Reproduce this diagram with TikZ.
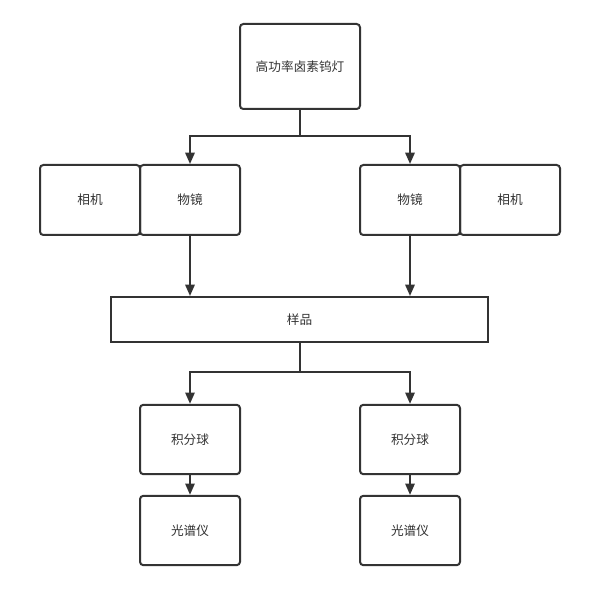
\documentclass[tikz,border=0pt]{standalone}
\usepackage{fontspec}
\setmainfont{Noto Sans CJK SC}
\usetikzlibrary{arrows.meta}
\begin{document}
\begin{tikzpicture}[x=0.75pt,y=-0.75pt,
  box/.style={draw=black!80,line width=1.5pt,rounded corners=2.5pt,inner sep=0pt,font=\fontsize{9.5pt}{11pt}\selectfont,text=black!80},
  sq/.style={draw=black!80,line width=1.5pt,inner sep=0pt,font=\fontsize{9.5pt}{11pt}\selectfont,text=black!80},
  conn/.style={draw=black!80,line width=1.5pt},
  arr/.style={conn,-{Triangle[length=8.5pt,width=7pt]}}]
\useasboundingbox (0,0) rectangle (599,605);
\fill[white] (0,0) rectangle (599,605);
\node[box,minimum width=90pt,minimum height=63.75pt] (lamp) at (300,66.5) {高功率卤素钨灯};
\node[box,minimum width=75pt,minimum height=52.5pt] (camL) at (90,200) {相机};
\node[box,minimum width=75pt,minimum height=52.5pt] (objL) at (190,200) {物镜};
\node[box,minimum width=75pt,minimum height=52.5pt] (objR) at (410,200) {物镜};
\node[box,minimum width=75pt,minimum height=52.5pt] (camR) at (510,200) {相机};
\node[sq,minimum width=282.75pt,minimum height=33.75pt] (sample) at (299.5,319.5) {样品};
\node[box,minimum width=75pt,minimum height=52pt] (sphL) at (190,439.5) {积分球};
\node[box,minimum width=75pt,minimum height=52pt] (sphR) at (410,439.5) {积分球};
\node[box,minimum width=75pt,minimum height=52pt] (specL) at (190,530.5) {光谱仪};
\node[box,minimum width=75pt,minimum height=52pt] (specR) at (410,530.5) {光谱仪};
\coordinate (j1) at (300,136);
\coordinate (j2) at (300,372);
\draw[conn] (lamp.south) -- (j1);
\draw[arr] (j1) -| (objL.north);
\draw[arr] (j1) -| (objR.north);
\draw[arr] (objL.south) -- (objL.south |- sample.north);
\draw[arr] (objR.south) -- (objR.south |- sample.north);
\draw[conn] (sample.south -| j2) -- (j2);
\draw[arr] (j2) -| (sphL.north);
\draw[arr] (j2) -| (sphR.north);
\draw[arr] (sphL.south) -- (specL.north);
\draw[arr] (sphR.south) -- (specR.north);
\end{tikzpicture}
\end{document}
